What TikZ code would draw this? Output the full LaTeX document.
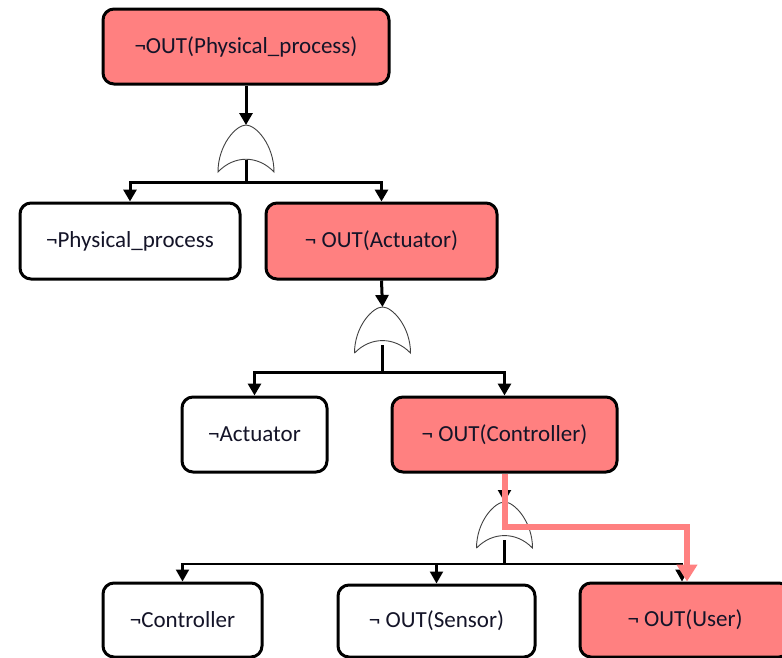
\documentclass[tikz,border=0pt]{standalone}
\usepackage{fontspec}
\setmainfont{Carlito}
\usetikzlibrary{arrows.meta}
\definecolor{hot}{RGB}{255,128,128}
\definecolor{txt}{RGB}{20,20,40}
\tikzset{
  box/.style={draw=black, line width=3pt, rounded corners=11pt, fill=white,
    font=\fontsize{23}{26}\selectfont, text=txt, inner sep=0pt},
  hotbox/.style={box, fill=hot},
  conn/.style={draw=black, line width=3pt},
  arr/.style={conn, -{Triangle[length=12pt,width=13pt]}},
  thinarr/.style={draw=black, line width=2.2pt, -{Triangle[length=12pt,width=13pt]}},
  gate/.style={draw=black!75, line width=0.9pt, fill=white},
  hotpath/.style={draw=hot, line width=5.5pt, -{Triangle[length=17pt,width=20pt]}},
  orgate/.pic={\path[gate] (-28,47) .. controls (-28,20) and (-10,0) .. (0,0)
     .. controls (10,0) and (28,20) .. (28,47)
     .. controls (12,30) and (-12,30) .. cycle;}
}
\begin{document}
\begin{tikzpicture}[x=1pt,y=-1pt]
\clip (0,0) rectangle (782,657);
\fill[white] (0,0) rectangle (782,657);

% nodes
\node[hotbox, minimum width=286pt, minimum height=75pt] (top) at (246,46.5) {¬OUT(Physical\_process)};
\node[box, minimum width=220pt, minimum height=76pt] (pp) at (130,241) {¬Physical\_process};
\node[hotbox, minimum width=231pt, minimum height=76pt] (act) at (381.5,241) {¬ OUT(Actuator)};
\node[box, minimum width=145pt, minimum height=75pt] (nact) at (254.5,434.5) {¬Actuator};
\node[hotbox, minimum width=225pt, minimum height=75pt] (ctrl) at (504.5,434.5) {¬ OUT(Controller)};
\node[box, minimum width=159pt, minimum height=74pt] (nctrl) at (182.5,620) {¬Controller};
\node[box, minimum width=197pt, minimum height=72pt] (sens) at (436.5,621) {¬ OUT(Sensor)};
\node[hotbox, minimum width=210pt, minimum height=74pt] (user) at (685,620) {¬ OUT(User)};

% gate 1
\coordinate (g1t) at (246,125);
\coordinate (g1s) at (246,160);
\coordinate (b1) at (246,182);
\draw[arr] (top.south) -- (g1t);
\pic at (g1t) {orgate};
\draw[conn] (g1s) -- (b1);
\draw[arr] (b1) -| (pp.north);
\draw[arr] (b1) -| (act.north);

% gate 2
\coordinate (g2t) at (382.5,307);
\coordinate (g2s) at (382.5,345);
\coordinate (b2) at (382.5,372);
\draw[arr] (act.south) -- (g2t);
\pic[yscale=0.98] at (g2t) {orgate};
\draw[conn] (g2s) -- (b2);
\draw[arr] (b2) -| (nact.north);
\draw[arr] (b2) -| (ctrl.north);

% gate 3
\coordinate (g3t) at (504.5,502);
\coordinate (g3s) at (504.5,540);
\coordinate (b3) at (504.5,564);
\draw[thinarr] (ctrl.south) -- (g3t);
\pic[yscale=0.98] at (g3t) {orgate};
\draw[conn] (g3s) -- (b3);
\draw[thinarr] (b3) -| (nctrl.north);
\draw[thinarr] (b3) -| (sens.north);
\draw[thinarr] (b3) -| ([xshift=-3pt]user.north);

% highlighted path
\coordinate (h1) at (505,527);
\coordinate (h2) at (687,527);
\draw[hotpath] (ctrl.south -| h1) -- (h1) -- (h2) -- (h2 |- user.north);
\end{tikzpicture}
\end{document}
